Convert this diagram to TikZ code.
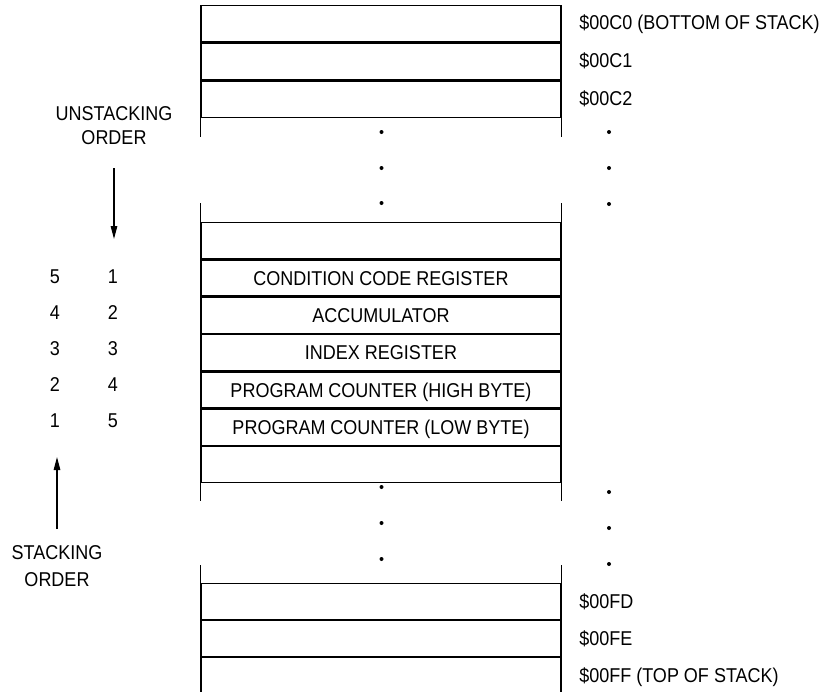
\documentclass[tikz,border=0pt]{standalone}
\usepackage{fontspec}
\setmainfont[FakeStretch=0.9]{Liberation Sans}
\usetikzlibrary{arrows.meta}
\begin{document}
\begin{tikzpicture}[x=1pt,y=-1pt,line width=1.3pt,
  cell/.style={draw, minimum width=360pt, inner sep=0pt, anchor=north, line width=1.3pt,
    font=\fontsize{20}{24}\selectfont, text height=14.3pt, text depth=0pt},
  lbl/.style={font=\fontsize{20}{24}\selectfont, inner sep=0pt, text height=14.3pt, text depth=0pt},
  two/.style={inner sep=0pt, align=center},
  dotm/.style={circle, fill=black, draw=none, inner sep=0pt, minimum size=4pt},
  arr/.style={-{Triangle[length=13pt,width=6.5pt]}, line width=1.3pt}]
\useasboundingbox (0,0) rectangle (824,691);

% top rows
\node[cell, minimum height=36.3pt] (t1) at (381,5) {};
\node[cell, minimum height=36.3pt] (t2) at (t1.south) {};
\node[cell, minimum height=36.3pt] (t3) at (t2.south) {};
\draw (t3.south west) -- ++(0,19);
\draw (t3.south east) -- ++(0,19);

% middle rows
\node[cell, minimum height=36pt] (m0) at (381,222) {};
\node[cell, minimum height=36pt] (m1) at (m0.south) {CONDITION CODE REGISTER};
\node[cell, minimum height=36pt] (m2) at (m1.south) {ACCUMULATOR};
\node[cell, minimum height=36pt] (m3) at (m2.south) {INDEX REGISTER};
\node[cell, minimum height=36pt] (m4) at (m3.south) {PROGRAM COUNTER (HIGH BYTE)};
\node[cell, minimum height=36pt] (m5) at (m4.south) {PROGRAM COUNTER (LOW BYTE)};
\node[cell, minimum height=36pt] (m6) at (m5.south) {};
\draw (m0.north west) -- ++(0,-19);
\draw (m0.north east) -- ++(0,-19);
\draw (m6.south west) -- ++(0,18);
\draw (m6.south east) -- ++(0,18);

% bottom rows
\node[cell, minimum height=35.7pt] (b1) at (381,583) {};
\node[cell, minimum height=35.7pt] (b2) at (b1.south) {};
\node[cell, minimum height=35.7pt] (b3) at (b2.south) {};
\draw (b1.north west) -- ++(0,-18);
\draw (b1.north east) -- ++(0,-18);

% dots
\node[dotm] (d1) at (381.5,132) {};
\node[dotm] (d2) at (381.5,168) {};
\node[dotm] (d3) at (381.5,203) {};
\node[dotm] (d4) at (609,132) {};
\node[dotm] (d5) at (609,168) {};
\node[dotm] (d6) at (609,204) {};
\node[dotm] (d7) at (381.5,487) {};
\node[dotm] (d8) at (381.5,523) {};
\node[dotm] (d9) at (381.5,559) {};
\node[dotm] (d10) at (609,492) {};
\node[dotm] (d11) at (609,528) {};
\node[dotm] (d12) at (609,564) {};

% address labels
\node[lbl, anchor=west] (a0) at ([xshift=17pt,yshift=1pt]t1.east) {\$00C0 (BOTTOM OF STACK)};
\node[lbl, anchor=west] (a1) at ([xshift=17pt,yshift=1pt]t2.east) {\$00C1};
\node[lbl, anchor=west] (a2) at ([xshift=17pt,yshift=1pt]t3.east) {\$00C2};
\node[lbl, anchor=west] (a3) at ([xshift=17pt]b1.east) {\$00FD};
\node[lbl, anchor=west] (a4) at ([xshift=17pt]b2.east) {\$00FE};
\node[lbl, anchor=west] (a5) at ([xshift=17pt]b3.east) {\$00FF (TOP OF STACK)};

% order numbers
\node[lbl] (s5) at (55,276) {5};
\node[lbl] (s4) at (55,312) {4};
\node[lbl] (s3) at (55,348) {3};
\node[lbl] (s2) at (55,384) {2};
\node[lbl] (s1) at (55,420) {1};
\node[lbl] (u1) at (113,276) {1};
\node[lbl] (u2) at (113,312) {2};
\node[lbl] (u3) at (113,348) {3};
\node[lbl] (u4) at (113,384) {4};
\node[lbl] (u5) at (113,420) {5};

% order labels and arrows
\node[two, font=\fontsize{20}{24}\selectfont] (unst) at (114,125.5) {UNSTACKING\\ORDER};
\node[two, font=\fontsize{20}{27}\selectfont] (stk) at (57,566) {STACKING\\ORDER};
\coordinate (ua) at (114,168);
\coordinate (ub) at (114,239);
\coordinate (sa) at (57,529);
\coordinate (sb) at (57,457);
\draw[arr] (ua) -- (ub);
\draw[arr] (sa) -- (sb);
\end{tikzpicture}
\end{document}
